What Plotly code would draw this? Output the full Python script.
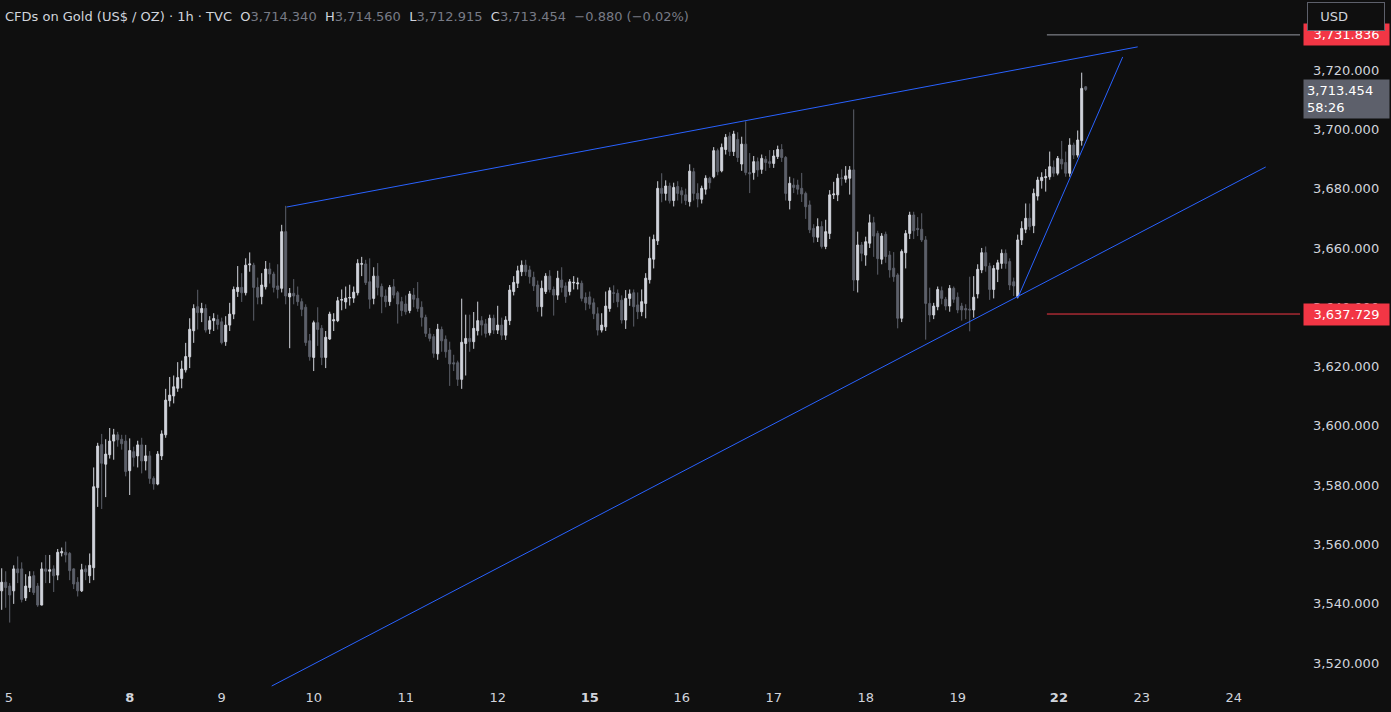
import plotly.graph_objects as go

# ---------------- data (hourly candles, index = bar number) ----------------
opens = [3544.4,3547.3,3546.0,3544.4,3551.8,3551.8,3542.0,3545.5,3549.5,3546.0,3539.6,3551.8,3551.0,3551.8,3549.7,3557.2,3557.4,3557.0,3551.8,3547.3,3544.4,3551.8,3549.5,3552.2,3579.2,3593.7,3587.1,3590.3,3594.9,3597.0,3595.5,3594.9,
 3584.9,3591.3,3589.9,3593.6,3588.2,3589.9,3582.3,3580.4,3589.9,3597.0,3608.5,3610.1,3612.7,3616.0,3618.9,3623.3,3632.1,3640.2,3638.2,3639.6,3632.6,3635.5,3635.9,3635.1,3628.4,
 3634.0,3637.7,3645.3,3646.7,3644.9,3654.3,3654.2,3646.7,3643.6,3646.9,3652.9,3651.2,3647.2,3646.4,3665.5,3643.5,3644.7,3644.1,3641.9,3640.0,3628.7,3623.1,3634.8,3632.9,3623.1,3629.3,3635.4,3635.5,
 3642.4,3641.8,3643.1,3643.1,3644.9,3654.5,3654.6,3648.6,3643.0,3650.5,3647.0,3643.8,3641.9,3646.9,3644.9,3641.9,3641.1,3638.9,3644.1,3643.0,3640.0,3636.6,3631.0,3630.1,3624.3,3632.5,3629.2,3625.6,3621.3,3621.3,3615.7,3627.8,
 3629.5,3628.4,3632.1,3635.5,3634.4,3631.4,3636.3,3632.3,3634.0,3630.6,3635.5,3645.3,3648.1,3652.0,3654.2,3652.6,3650.1,3647.5,3640.2,3645.3,3650.5,3646.0,3644.1,3649.2,3647.2,3645.3,3648.2,3647.9,3648.1,3643.3,3643.5,3641.5,3637.8,
 3632.3,3633.4,3639.6,3644.9,3644.7,3642.4,3635.7,3643.0,3644.9,3640.8,3638.5,3641.3,3649.3,3656.2,3662.4,3680.1,3678.4,3680.9,3676.0,3680.7,3679.3,3677.9,3675.6,3685.7,3678.4,
 3676.4,3679.8,3683.5,3684.0,3692.8,3686.0,3693.2,3697.7,3692.5,3696.6,3688.3,3695.0,3685.4,3685.4,3689.1,3686.5,3689.9,3689.1,3688.5,3690.8,3693.2,3690.5,3676.0,3681.2,3681.2,
 3680.1,3678.4,3674.5,3666.6,3663.6,3667.2,3660.5,3664.9,3677.9,3677.9,3683.6,3683.2,3683.5,3686.3,3649.2,3661.0,3657.6,3661.6,3668.5,3664.9,
 3656.2,3664.6,3657.6,3653.2,3650.9,3636.3,3658.4,3664.9,3671.1,3666.6,3666.3,3662.7,3641.3,3637.4,3640.2,3645.6,3642.7,3640.4,3646.4,3643.4,
 3640.4,3639.6,3639.4,3639.1,3644.5,3652.6,3658.4,3653.9,3646.0,3652.8,3654.8,3658.2,3655.4,3648.6,3643.6,3662.7,3666.3,3670.0,3667.5,
 3677.5,3682.7,3683.7,3684.0,3687.2,3685.2,3689.9,3688.8,3685.2,3694.7,3691.3,3696.2,3714.34]
highs = [3552.0,3551.0,3547.0,3553.0,3556.0,3554.0,3550.0,3551.0,3551.0,3547.0,3554.0,3556.5,3556.5,3553.0,3558.5,3559.0,3561.0,3557.5,3552.0,3549.0,3553.5,3553.0,3557.0,3586.0,3594.3,3597.3,3595.5,3599.3,3599.0,3598.0,3597.0,3597.0,
 3595.8,3593.0,3595.0,3596.0,3593.6,3591.5,3583.0,3591.5,3598.5,3612.5,3616.5,3617.0,3621.5,3622.0,3628.0,3636.3,3641.0,3645.9,3641.5,3641.0,3637.0,3638.0,3637.5,3636.5,3637.0,
 3641.5,3647.0,3653.9,3651.5,3656.5,3658.5,3655.0,3650.0,3651.5,3655.6,3655.0,3652.0,3654.5,3667.8,3674.2,3646.5,3649.5,3647.0,3643.0,3641.0,3631.0,3635.5,3640.0,3634.0,3632.0,3638.5,3638.0,3643.5,
 3646.0,3647.0,3647.6,3647.0,3656.2,3657.0,3656.0,3656.5,3653.5,3654.9,3648.0,3646.0,3647.5,3649.5,3645.5,3643.5,3644.0,3645.5,3646.5,3648.5,3642.0,3637.5,3633.0,3631.0,3634.4,3633.5,3630.5,3628.4,3624.0,3622.0,3642.9,3637.5,
 3637.5,3638.4,3641.9,3637.0,3636.0,3637.5,3637.5,3640.5,3636.5,3637.0,3647.5,3650.5,3654.0,3655.8,3656.0,3654.0,3652.0,3649.0,3649.0,3651.5,3652.5,3647.0,3652.3,3653.5,3648.4,3649.5,3650.5,3650.0,3649.0,3645.0,3645.3,3643.0,3640.0,
 3638.0,3645.3,3646.7,3647.4,3646.0,3644.0,3645.8,3646.0,3646.0,3645.0,3646.0,3651.5,3663.8,3664.5,3682.5,3685.2,3682.8,3682.0,3682.0,3682.5,3680.5,3680.0,3688.2,3687.0,3681.8,
 3681.0,3684.5,3684.0,3694.0,3693.5,3695.2,3698.4,3699.0,3699.5,3699.0,3697.5,3702.7,3692.0,3691.0,3690.5,3691.5,3691.0,3693.0,3693.0,3694.5,3695.0,3691.0,3684.0,3683.5,3683.0,
 3685.3,3679.0,3676.0,3668.0,3670.0,3669.0,3669.5,3679.5,3682.3,3685.0,3686.5,3687.6,3687.6,3706.7,3665.5,3662.0,3663.8,3671.3,3670.5,3665.8,
 3665.0,3665.5,3659.0,3658.6,3651.5,3659.5,3666.0,3672.2,3672.2,3670.4,3671.7,3664.0,3646.6,3641.5,3647.0,3647.0,3643.5,3647.5,3647.0,3645.0,
 3641.5,3641.0,3650.3,3650.5,3654.5,3660.0,3660.5,3655.0,3654.2,3656.0,3659.5,3659.5,3656.5,3650.0,3664.5,3669.0,3675.0,3675.0,3680.0,
 3684.0,3685.5,3686.6,3692.5,3689.5,3691.0,3696.1,3692.5,3697.0,3695.5,3699.6,3719.1,3714.56]
lows = [3538.0,3538.7,3533.7,3540.0,3547.0,3540.5,3541.0,3544.0,3543.0,3539.0,3539.5,3547.0,3547.0,3544.0,3548.0,3556.0,3554.0,3548.0,3545.0,3542.5,3544.0,3548.0,3547.0,3548.0,3572.7,3572.0,3576.0,3589.0,3588.6,3593.0,3592.0,3583.0,
 3576.7,3586.3,3586.0,3584.0,3585.0,3580.5,3578.5,3580.0,3588.5,3596.0,3606.5,3607.6,3611.5,3612.7,3618.0,3619.5,3628.0,3632.5,3635.0,3631.5,3631.0,3632.0,3632.5,3627.5,3627.0,
 3632.0,3636.0,3643.5,3641.8,3644.0,3652.0,3635.5,3641.0,3641.0,3646.0,3648.0,3645.0,3643.0,3645.0,3641.0,3626.2,3641.0,3640.5,3637.0,3627.0,3622.0,3618.5,3627.0,3620.5,3619.5,3629.0,3632.0,3635.0,
 3639.0,3639.5,3640.6,3641.5,3644.0,3650.5,3647.5,3639.5,3641.0,3644.0,3638.0,3640.0,3640.5,3643.0,3634.5,3637.0,3637.5,3638.0,3640.0,3638.5,3633.5,3630.0,3628.5,3623.0,3622.3,3625.0,3623.0,3613.5,3618.5,3613.5,3612.5,3617.0,
 3625.0,3626.0,3630.5,3630.5,3629.8,3630.5,3631.0,3631.0,3629.0,3629.0,3634.0,3644.0,3646.5,3650.5,3650.6,3648.0,3645.5,3638.5,3636.9,3644.5,3645.0,3637.2,3642.5,3645.0,3641.5,3644.0,3646.0,3646.0,3642.0,3639.0,3639.5,3636.0,3630.5,
 3631.5,3632.0,3638.5,3641.5,3640.0,3634.5,3632.7,3640.5,3633.5,3636.0,3637.0,3636.3,3648.0,3653.1,3661.0,3675.4,3676.0,3675.0,3674.0,3676.0,3675.0,3674.5,3674.0,3676.0,3673.7,
 3675.0,3678.0,3680.0,3683.5,3684.5,3685.5,3691.5,3691.0,3691.0,3689.0,3686.0,3684.5,3678.5,3683.0,3684.0,3685.0,3686.0,3687.0,3687.0,3690.0,3689.0,3676.0,3673.0,3678.5,3678.0,
 3675.5,3669.8,3665.0,3661.8,3662.0,3659.8,3659.6,3663.0,3676.5,3675.8,3681.0,3682.0,3678.0,3645.5,3645.0,3655.5,3654.0,3660.0,3657.0,3651.0,
 3654.5,3655.0,3650.0,3648.6,3632.9,3635.0,3653.1,3663.0,3663.0,3664.0,3662.0,3629.1,3635.0,3636.0,3639.0,3641.0,3639.0,3638.5,3641.5,3638.0,
 3635.5,3636.0,3631.9,3636.5,3643.0,3651.5,3652.0,3642.5,3643.0,3648.5,3653.0,3653.0,3645.8,3643.8,3643.0,3661.0,3665.0,3666.0,3665.0,
 3676.0,3680.0,3679.0,3683.0,3684.0,3684.5,3686.5,3684.0,3684.0,3690.0,3690.5,3694.5,3712.915]
closes = [3547.3,3545.5,3543.0,3551.8,3550.5,3541.5,3546.0,3549.2,3543.8,3539.6,3551.8,3551.0,3551.5,3549.5,3557.4,3557.6,3556.5,3551.2,3546.7,3544.4,3551.5,3550.8,3553.0,3579.5,3593.2,3587.4,3590.5,3594.9,3597.0,3595.3,3594.0,3584.6,
 3591.7,3589.4,3593.6,3588.2,3589.9,3582.3,3580.4,3590.5,3597.3,3608.7,3610.4,3613.2,3616.3,3619.2,3623.4,3632.6,3639.6,3638.2,3639.6,3632.3,3635.5,3636.2,3634.2,3628.1,3634.0,
 3637.7,3646.0,3646.7,3644.9,3654.2,3654.6,3646.7,3643.4,3647.5,3652.9,3651.2,3646.7,3646.0,3665.5,3643.8,3644.7,3643.8,3641.9,3639.3,3628.1,3623.3,3634.8,3632.5,3623.1,3629.9,3637.7,3635.8,3642.2,
 3642.6,3643.1,3643.3,3645.1,3654.8,3654.7,3648.3,3642.7,3650.5,3646.7,3643.6,3641.9,3646.7,3644.1,3641.1,3638.9,3638.5,3644.5,3642.7,3639.6,3636.6,3631.2,3629.5,3624.5,3632.6,3628.7,3625.0,3620.9,3620.9,3615.7,3628.2,3629.5,
 3628.4,3632.9,3635.5,3634.0,3631.2,3636.3,3632.3,3634.0,3630.6,3635.7,3645.8,3648.4,3652.3,3654.2,3652.0,3650.3,3647.2,3640.2,3646.4,3650.5,3646.0,3644.1,3649.8,3646.7,3643.6,3648.6,3648.4,3648.2,3643.0,3641.5,3641.0,3637.8,3632.3,
 3634.0,3640.4,3645.6,3644.7,3641.9,3635.7,3643.0,3644.5,3640.2,3638.5,3641.9,3649.8,3656.5,3662.9,3680.1,3678.4,3680.9,3675.9,3680.4,3678.4,3677.9,3676.0,3685.9,3678.4,3676.5,
 3680.1,3683.5,3682.0,3692.8,3685.7,3693.9,3697.3,3692.5,3698.4,3690.5,3695.0,3685.4,3685.0,3689.1,3686.3,3690.2,3688.8,3688.5,3691.0,3693.2,3690.5,3678.4,3681.8,3680.4,3679.8,
 3678.2,3673.9,3666.1,3663.8,3667.2,3660.5,3665.5,3677.9,3678.2,3683.5,3683.5,3684.3,3686.3,3649.2,3661.0,3658.2,3662.1,3668.5,3664.0,3656.4,
 3664.0,3657.1,3652.6,3650.3,3636.3,3658.8,3664.9,3671.1,3665.8,3666.2,3662.7,3641.3,3637.4,3640.4,3646.0,3643.0,3640.4,3646.4,3642.7,3639.1,
 3639.1,3639.1,3639.1,3643.4,3652.8,3658.4,3653.9,3646.0,3653.1,3655.0,3658.2,3654.8,3647.5,3647.2,3662.7,3666.6,3670.0,3667.2,3678.4,
 3682.9,3683.8,3684.0,3687.4,3685.2,3690.2,3688.3,3685.2,3694.7,3691.3,3696.4,3713.8,3713.454]

bars = list(range(len(closes)))

# day labels (bar position of each day label)
day_ticks = [1.8, 32, 55, 78, 101, 124, 147, 170, 193, 216, 239, 264.3, 285, 308]
day_labels = ["5", "<b>8</b>", "9", "10", "11", "12", "<b>15</b>", "16", "17", "18", "19", "<b>22</b>", "23", "24"]

price_ticks = [3520, 3540, 3560, 3580, 3600, 3620, 3640, 3660, 3680, 3700, 3720]

# drawn trend lines: (bar0, price0, bar1, price1)
trend_lines = [
    (71.25, 3673.8, 284.0, 3727.8),
    (67.5, 3512.3, 316.0, 3687.3),
    (254.0, 3643.1, 280.25, 3724.4),
]
last_price = 3713.454
countdown = "58:26"
red_level = 3637.729
top_level = 3731.836
# horizontal rays: (start bar, price, colour)
h_rays = [(261.3, top_level, "#9598a1"), (261.3, red_level, "#f23645")]

X_RANGE = [-0.425, 324.575]
Y_RANGE = [3511.64, 3743.6]

BG = "#0f0f0f"
UP = "#d1d4dc"
DN = "#5d606b"
TXT = "#d1d4dc"
FONT = "DejaVu Sans, Verdana, sans-serif"

fig = go.Figure(go.Candlestick(
    x=bars, open=opens, high=highs, low=lows, close=closes,
    increasing=dict(line=dict(color=UP, width=1), fillcolor=UP),
    decreasing=dict(line=dict(color=DN, width=1), fillcolor=DN),
    whiskerwidth=0, hoverinfo="skip",
))

shapes = []
for b0, p0, b1, p1 in trend_lines:
    shapes.append(dict(type="line", xref="x", yref="y", x0=b0, y0=p0, x1=b1, y1=p1,
                       line=dict(color="#2962ff", width=1)))
for b0, p, col in h_rays:
    shapes.append(dict(type="line", xref="x", yref="y", x0=b0, y0=p, x1=X_RANGE[1], y1=p,
                       line=dict(color=col, width=1)))

annotations = []
# header
GREY = "#787b86"
hdr = (f"<span style='color:{TXT}'>CFDs on Gold (US$ / OZ) · 1h · TVC&nbsp;&nbsp;O</span>"
       f"<span style='color:{GREY}'>{opens[-1]:,.3f}</span>"
       f"<span style='color:{TXT}'>&nbsp;&nbsp;H</span><span style='color:{GREY}'>{highs[-1]:,.3f}</span>"
       f"<span style='color:{TXT}'>&nbsp;&nbsp;L</span><span style='color:{GREY}'>{lows[-1]:,.3f}</span>"
       f"<span style='color:{TXT}'>&nbsp;&nbsp;C</span><span style='color:{GREY}'>{closes[-1]:,.3f}"
       f"&nbsp;&nbsp;−0.880 (−0.02%)</span>")
annotations.append(dict(xref="paper", yref="paper", x=0, y=1, xanchor="left", yanchor="middle",
                        xshift=3, yshift=-16, text=hdr, showarrow=False,
                        font=dict(family=FONT, size=13, color=TXT)))

# price labels on the axis
annotations.append(dict(xref="paper", yref="y", x=1, y=top_level, xanchor="left", yanchor="middle",
                        xshift=3, text=f"{top_level:,.3f}", showarrow=False, bgcolor="#f23645",
                        font=dict(family=FONT, size=13, color="#ffffff"), width=79, align="center",
                        borderpad=3))
annotations.append(dict(xref="paper", yref="y", x=1, y=last_price, xanchor="left", yanchor="top",
                        xshift=3, yshift=10, text=f"{last_price:,.3f}<br>{countdown}", showarrow=False,
                        bgcolor="#5d606b", font=dict(family=FONT, size=13, color="#ffffff"),
                        width=79, align="left", borderpad=3))
annotations.append(dict(xref="paper", yref="y", x=1, y=red_level, xanchor="left", yanchor="middle",
                        xshift=3, text=f"{red_level:,.3f}", showarrow=False, bgcolor="#f23645",
                        font=dict(family=FONT, size=13, color="#ffffff"), width=79, align="center",
                        borderpad=3))
# USD currency button (drawn last so it sits above the top price label)
annotations.append(dict(xref="paper", yref="paper", x=1, y=1, xanchor="left", yanchor="top",
                        xshift=7, yshift=-2, text="&nbsp;&nbsp;USD", showarrow=False, bgcolor=BG,
                        bordercolor="#5d606b", borderwidth=1, borderpad=4, width=68, height=19,
                        align="left", font=dict(family=FONT, size=13, color=TXT)))

fig.update_layout(
    width=1391, height=712,
    margin=dict(l=0, r=91, t=0, b=24),
    paper_bgcolor=BG, plot_bgcolor=BG,
    showlegend=False, hovermode=False,
    shapes=shapes, annotations=annotations,
    xaxis=dict(range=X_RANGE, rangeslider=dict(visible=False), showgrid=False, zeroline=False,
               showline=False, ticks="", tickvals=day_ticks, ticktext=day_labels,
               tickfont=dict(family=FONT, size=13, color=TXT)),
    yaxis=dict(range=Y_RANGE, side="right", showgrid=False, zeroline=False, showline=False,
               ticks="", tickvals=price_ticks, ticktext=[f"{v:,.3f}" for v in price_ticks],
               ticklabelstandoff=12, tickfont=dict(family=FONT, size=13, color=TXT)),
)

fig.write_html("out.html", config={"displayModeBar": False},
               post_script="document.body.style.margin='0';document.body.style.background='#0f0f0f';")
